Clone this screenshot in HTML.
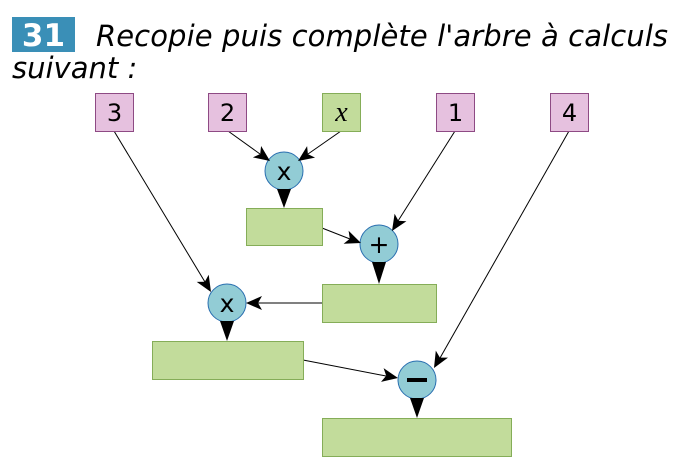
<!DOCTYPE html>
<html><head><meta charset="utf-8"><style>
body{margin:0;width:700px;height:472px;background:#fff;overflow:hidden;font-family:"DejaVu Sans","Liberation Sans",sans-serif}
</style></head><body>
<svg width="700" height="472" xmlns="http://www.w3.org/2000/svg">
<rect x="12" y="17" width="63" height="35" fill="#3a8fb7"/>
<text x="43.5" y="46" text-anchor="middle" font-family="DejaVu Sans" font-weight="bold" font-size="31" fill="#fff">31</text>
<text x="96" y="46" font-family="DejaVu Sans" font-style="italic" font-size="29" textLength="572" lengthAdjust="spacing">Recopie puis complète l'arbre à calculs</text>
<text x="12" y="78" font-family="DejaVu Sans" font-style="italic" font-size="29">suivant :</text>
<g stroke="#000" stroke-width="1" fill="none">
<line x1="114" y1="131" x2="205" y2="282"/>
<line x1="228" y1="131" x2="260" y2="154"/>
<line x1="341" y1="131" x2="308" y2="154"/>
<line x1="322" y1="228" x2="350" y2="239"/>
<line x1="455" y1="131" x2="398" y2="221"/>
<line x1="322" y1="303" x2="258" y2="303"/>
<line x1="303" y1="360" x2="386" y2="376"/>
<line x1="569" y1="131" x2="440" y2="358"/>
</g>
<g fill="#e6c1df" stroke="#8e4a84" stroke-width="1">
<rect x="95.5" y="93.5" width="38" height="38"/>
<rect x="208.5" y="93.5" width="38" height="38"/>
<rect x="436.5" y="93.5" width="38" height="38"/>
<rect x="550.5" y="93.5" width="38" height="38"/>
</g>
<g fill="#c2dc9b" stroke="#85ad58" stroke-width="1">
<rect x="322.5" y="93.5" width="38" height="38"/>
<rect x="246.5" y="208.5" width="76" height="37"/>
<rect x="322.5" y="284.5" width="114" height="38"/>
<rect x="152.5" y="341.5" width="151" height="38"/>
<rect x="322.5" y="418.5" width="189" height="38"/>
</g>
<g font-family="DejaVu Sans" font-size="24" text-anchor="middle">
<text x="114.5" y="121">3</text><text x="227.5" y="121">2</text><text x="455.5" y="121">1</text><text x="569.5" y="121">4</text>
<text x="341.5" y="121" font-family="Liberation Serif" font-style="italic" font-size="28">x</text>
</g>
<g fill="#92ccd5" stroke="#2a6fb0" stroke-width="1">
<circle cx="284" cy="171" r="19"/><circle cx="379" cy="244" r="19"/><circle cx="227" cy="303" r="19"/><circle cx="417" cy="380" r="19"/>
</g>
<g fill="#000">
<polygon points="211,292 196.7,281.9 204.8,281.7 208.7,274.7"/>
<polygon points="270,161 252.9,157.4 260.2,154 261.1,146"/>
<polygon points="298,161 307.1,146.1 307.9,154.1 315.1,157.6"/>
<polygon points="361,243 343.6,243.8 349.8,238.7 348.6,230.8"/>
<polygon points="392,231 394.6,213.8 398.4,220.8 406.4,221.2"/>
<polygon points="246,303 262,296 258,303 262,310"/>
<polygon points="398,378 381,381.9 386.2,375.8 383.6,368.1"/>
<polygon points="434,368 435.8,350.6 439.9,357.6 448,357.6"/>
<polygon points="277,189 291,189 284,208"/>
<polygon points="372,262 386,262 379,284"/>
<polygon points="220,321 234,321 227,341"/>
<polygon points="410,398 424,398 417,418"/>
</g>
<g font-family="DejaVu Sans" font-size="25" text-anchor="middle">
<text x="284" y="180">x</text><text x="379" y="253">+</text><text x="227" y="312">x</text>
</g>
<rect x="407" y="378" width="20" height="4" fill="#000"/>
</svg>
</body></html>
